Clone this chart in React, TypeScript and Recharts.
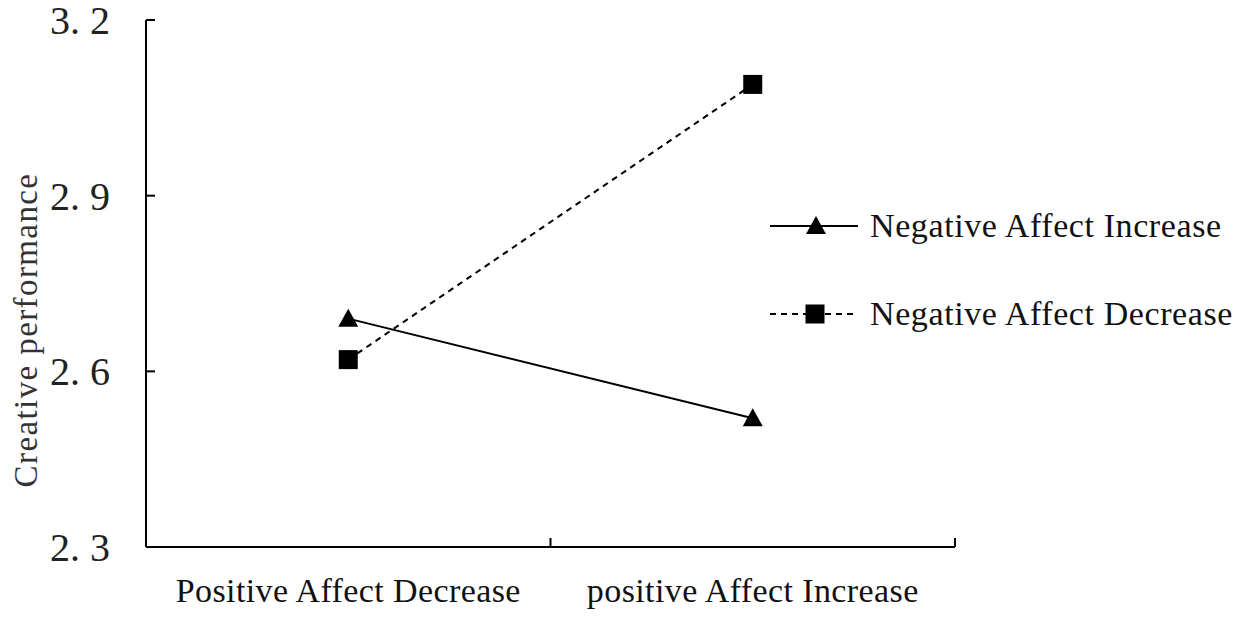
import { LineChart, Line, XAxis, YAxis } from "recharts"

const categories = ["Positive Affect Decrease", "positive Affect Increase"]
const negIncrease = [2.69, 2.52]
const negDecrease = [2.62, 3.09]
const yTicks = [2.3, 2.6, 2.9, 3.2]
const seriesNames = ["Negative Affect Increase", "Negative Affect Decrease"]

const data = categories.map((name, i) => ({
  pos: i + 0.5,
  name,
  inc: negIncrease[i],
  dec: negDecrease[i],
}))
// label ticks at band centres, small marks at band edges
const xTicks = [...categories.map((_, i) => i + 0.5), ...categories.map((_, i) => i + 1)]

const serif = "'Liberation Serif', 'Times New Roman', serif"

const Triangle = ({ cx, cy }: { cx: number; cy: number }) => (
  <polygon points={`${cx},${cy - 10} ${cx - 10},${cy + 8} ${cx + 10},${cy + 8}`} fill="#000" />
)
const Square = ({ cx, cy }: { cx: number; cy: number }) => (
  <rect x={cx - 9.5} y={cy - 9.5} width={19} height={19} fill="#000" />
)

const XTick = (props: any) => {
  const { x, y, payload } = props
  const v = payload.value
  if (Number.isInteger(v)) {
    return <line x1={x} y1={y} x2={x} y2={y - 9} stroke="#000" strokeWidth={2} />
  }
  return (
    <text x={x} y={y + 55} textAnchor="middle" fontSize={34} letterSpacing={0.4} fontFamily={serif} fill="#111">
      {categories[Math.floor(v)]}
    </text>
  )
}

const YTick = (props: any) => {
  const { x, y, payload } = props
  return (
    <g>
      <line x1={x} y1={y} x2={x + 9} y2={y} stroke="#000" strokeWidth={2} />
      <text x={x - 36} y={y + 14} textAnchor="end" fontSize={40} fontFamily={serif} fill="#222">
        {payload.value.toFixed(1).replace(".", ". ")}
      </text>
    </g>
  )
}

// legend drawn beside the plot so it does not take space from it
const LegendBox = () => (
  <svg width={480} height={140} style={{ position: "absolute", left: 768, top: 196 }}>
    {seriesNames.map((n, i) => {
      const y = 30 + i * 88
      return (
        <g key={n}>
          <line x1={2} y1={y} x2={90} y2={y} stroke="#000" strokeWidth={2} strokeDasharray={i ? "6 5" : undefined} />
          {i ? <Square cx={47} cy={y} /> : <Triangle cx={48} cy={y} />}
          <text x={102} y={y + 11} fontSize={34} letterSpacing={0.6} fontFamily={serif} fill="#111">{n}</text>
        </g>
      )
    })}
  </svg>
)

export default function App() {
  return (
    <div style={{ position: "absolute", left: 0, top: 0, width: 1251, height: 629, background: "#fff" }}>
      <LineChart width={1251} height={629} data={data} margin={{ top: 20, right: 296, bottom: 22, left: 0 }}>
        <XAxis
          dataKey="pos"
          type="number"
          domain={[0, 2]}
          ticks={xTicks}
          interval={0}
          tick={<XTick />}
          tickLine={false}
          tickSize={0}
          tickMargin={0}
          height={60}
          axisLine={{ stroke: "#000", strokeWidth: 2 }}
        />
        <YAxis
          type="number"
          domain={[2.3, 3.2]}
          ticks={yTicks}
          interval={0}
          tick={<YTick />}
          tickLine={false}
          tickSize={0}
          tickMargin={0}
          width={146}
          axisLine={{ stroke: "#000", strokeWidth: 2 }}
          label={{
            content: () => (
              <text transform="translate(37,330) rotate(-90)" textAnchor="middle" fontSize={33} letterSpacing={1.4} fontFamily={serif} fill="#333">
                Creative performance
              </text>
            ),
          }}
        />
        <Line
          dataKey="inc"
          name={seriesNames[0]}
          stroke="#000"
          strokeWidth={2}
          dot={(p: any) => <Triangle key={p.index} cx={p.cx} cy={p.cy} />}
          isAnimationActive={false}
        />
        <Line
          dataKey="dec"
          name={seriesNames[1]}
          stroke="#000"
          strokeWidth={2}
          strokeDasharray="6 5"
          dot={(p: any) => <Square key={p.index} cx={p.cx} cy={p.cy} />}
          isAnimationActive={false}
        />
      </LineChart>
      <LegendBox />
    </div>
  )
}
